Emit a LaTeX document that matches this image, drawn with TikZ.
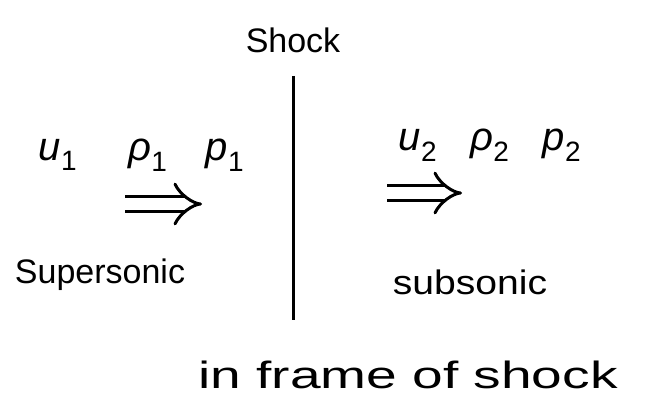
\documentclass[tikz,border=0pt]{standalone}
\usepackage{fontspec}
\setmainfont{Liberation Sans}
\usetikzlibrary{arrows.meta}
\newcommand{\sbx}[2]{\textit{#1}\textsubscript{#2}}
\begin{document}
\begin{tikzpicture}[x=1pt,y=-1pt,
  hand/.style={font=\fontsize{34}{40}\selectfont, inner sep=0pt},
  sym/.style={font=\fontsize{40}{46}\selectfont, inner sep=0pt},
  flow/.style={double, double distance=12pt, line width=3pt, -{Implies}}]
\useasboundingbox (0,0) rectangle (654,414);
\node[hand] (shocklbl) at (293,40) {Shock};
\coordinate (stop) at (293,76);
\coordinate (sbot) at (293,320);
\draw[line width=3pt] (stop) -- (sbot);
% upstream
\node[sym] (u1) at (58,155) {\sbx{u}{1}};
\node[sym] (r1) at (148,155) {\sbx{ρ}{1}};
\node[sym] (p1) at (225,155) {\sbx{p}{1}};
\coordinate (a1s) at (125,204);
\coordinate (a1e) at (202,204);
\draw[flow] (a1s) -- (a1e);
\node[hand] (sup) at (100,275) {Supersonic};
% downstream
\node[sym] (u2) at (418,145) {\sbx{u}{2}};
\node[sym] (r2) at (490,145) {\sbx{ρ}{2}};
\node[sym] (p2) at (562,145) {\sbx{p}{2}};
\coordinate (a2s) at (387,193);
\coordinate (a2e) at (462,193);
\draw[flow] (a2s) -- (a2e);
\node[hand, xscale=1.15] (sub) at (470,282) {subsonic};
\node[hand, font=\fontsize{38}{44}\selectfont, xscale=1.45] (frame) at (408,375) {in frame of shock};
\end{tikzpicture}
\end{document}
